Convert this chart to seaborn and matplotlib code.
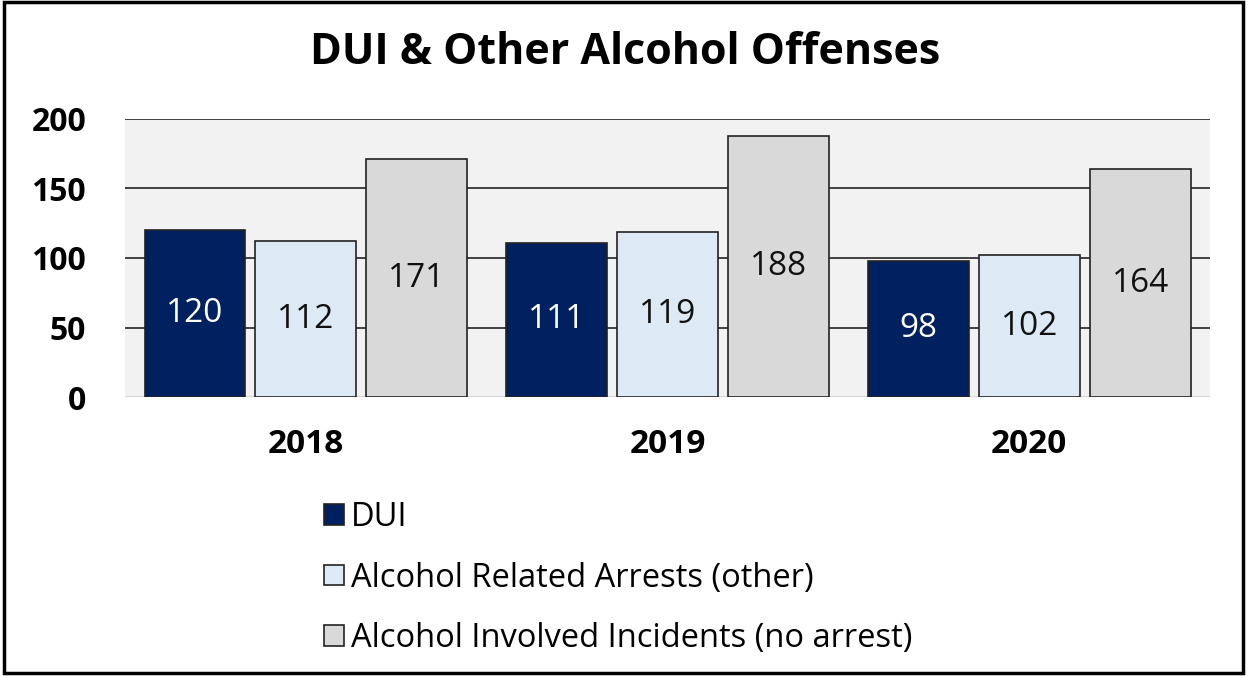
import matplotlib
matplotlib.use("Agg")
import matplotlib.pyplot as plt
import seaborn as sns
import pandas as pd
from matplotlib.patches import Rectangle

years = ["2018", "2019", "2020"]
series = ["DUI", "Alcohol Related Arrests (other)", "Alcohol Involved Incidents (no arrest)"]
dui = [120, 111, 98]
related = [112, 119, 102]
involved = [171, 188, 164]
colors = ["#002060", "#DDE9F5", "#D9D9D9"]
yticks = [0, 50, 100, 150, 200]

rows = []
for s, vals in zip(series, [dui, related, involved]):
    for y, v in zip(years, vals):
        rows.append({"Year": y, "Series": s, "Value": v})
df = pd.DataFrame(rows)

sns.set_theme(style="white")
plt.rcParams["font.family"] = ["Open Sans", "DejaVu Sans"]

fig = plt.figure(figsize=(12.48, 6.76), dpi=100)
ax = fig.add_axes([0.1002, 0.4127, 0.8694, 0.4113])
ax.set_facecolor("#F2F2F2")

sns.barplot(data=df, x="Year", y="Value", hue="Series", order=years, hue_order=series,
            palette=colors, width=0.92, gap=0.09, edgecolor="#222222", linewidth=1.2,
            saturation=1, ax=ax, legend=True, zorder=3)

ax.set_ylim(0, 200)
ax.set_xlim(-0.5, 2.5)
ax.set_yticks(yticks)
ax.set_yticklabels([str(t) for t in yticks], fontsize=23, fontweight="bold", color="black")
ax.set_xticklabels(years, fontsize=24, fontweight="bold", color="black")
ax.tick_params(axis="y", length=0, pad=28)
ax.tick_params(axis="x", length=0, pad=22)
ax.set_xlabel("")
ax.set_ylabel("")
for sp in ax.spines.values():
    sp.set_visible(False)
for t in [50, 100, 150, 200]:
    ax.axhline(t, color="#333333", linewidth=1.3, zorder=1)
ax.axhline(0, color="#D8D8D8", linewidth=1.5, zorder=1)

for i, cont in enumerate(ax.containers):
    ax.bar_label(cont, label_type="center", fontsize=24,
                 color="white" if i == 0 else "#111111", zorder=5)

handles, labels = ax.get_legend_handles_labels()
ax.get_legend().remove()
fig.legend(handles, labels, loc="upper left", bbox_to_anchor=(0.2495, 0.278),
           frameon=False, fontsize=23.5, labelspacing=0.84, handlelength=0.6,
           handleheight=0.6, handletextpad=0.2, borderaxespad=0, labelcolor="black")

fig.suptitle("DUI & Other Alcohol Offenses", fontsize=31, fontweight="bold",
             x=0.501, y=0.923, va="center", color="black")

fig.patches.append(Rectangle((0.003, 0.004), 0.993, 0.993, transform=fig.transFigure,
                             fill=False, edgecolor="black", linewidth=2.5))

fig.savefig("out.png", dpi=100)
